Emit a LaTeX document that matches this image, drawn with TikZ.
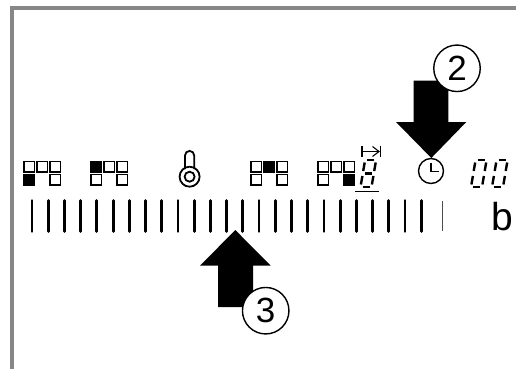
\documentclass[tikz,border=0pt]{standalone}
\usepackage{fontspec}
\setmainfont{Liberation Sans}
\tikzset{
  x=1pt,y=-1pt,
  framebar/.style={draw=black!47,line width=4pt},
  tickmark/.style={draw=black,line width=2.8pt,line cap=round},
  thintick/.style={draw=black!70,line width=1pt},
  sq/.style={draw=black,line width=1.8pt,fill=white},
  sqon/.style={draw=black,line width=1.8pt,fill=black},
  bigarrow/.style={fill=black,draw=none},
  numcircle/.style={circle,draw=black,line width=1.4pt,fill=white,minimum size=46.5pt,inner sep=0pt,font=\fontsize{35}{35}\selectfont},
  segm/.style={draw=black,line width=2.4pt},
  icon/.style={draw=black,line width=1.4pt},
  pics/seg8/.style={code={
    \begin{scope}[xslant=0.17]
      \draw[segm] (2.2,0)--(9,0);
      \draw[segm] (2.2,-13.5)--(9,-13.5);
      \draw[segm] (2.2,-27)--(9,-27);
      \draw[segm] (0,-2.5)--(0,-11);
      \draw[segm] (0,-16)--(0,-24.5);
      \draw[segm] (11,-2.5)--(11,-11);
      \draw[segm] (11,-16)--(11,-24.5);
    \end{scope}}},
  pics/seg0/.style={code={
    \begin{scope}[xslant=0.17]
      \draw[segm] (2.2,0)--(9,0);
      \draw[segm] (2.2,-27)--(9,-27);
      \draw[segm] (0,-2.5)--(0,-11);
      \draw[segm] (0,-16)--(0,-24.5);
      \draw[segm] (11,-2.5)--(11,-11);
      \draw[segm] (11,-16)--(11,-24.5);
    \end{scope}}},
}
\newcommand{\sqgroup}[4]{%
  \begin{scope}[shift={(#1,0)}]
    \path[#2] (0,161.5) rectangle +(10.5,10.5);
    \path[#3] (13,161.5) rectangle +(10.5,10.5);
    \path[sq] (26,161.5) rectangle +(10.5,10.5);
    #4
  \end{scope}}
\begin{document}
\begin{tikzpicture}
\useasboundingbox (0,0) rectangle (516,369);
\fill[white] (0,0) rectangle (516,369);
% frame
\draw[framebar,line cap=butt] (12,369) -- (12,8) -- (516,8);
% square groups
\sqgroup{24}{sq}{sq}{\path[sqon] (0,174.5) rectangle +(10.5,10.5); \path[sq] (26,174.5) rectangle +(10.5,10.5);}
\sqgroup{91}{sqon}{sq}{\path[sq] (0,174.5) rectangle +(10.5,10.5); \path[sq] (26,174.5) rectangle +(10.5,10.5);}
\sqgroup{251}{sq}{sqon}{\path[sq] (0,174.5) rectangle +(10.5,10.5); \path[sq] (26,174.5) rectangle +(10.5,10.5);}
\sqgroup{318}{sq}{sq}{\path[sq] (0,174.5) rectangle +(10.5,10.5); \path[sqon] (26,174.5) rectangle +(10.5,10.5);}
% thermometer
\draw[icon,line width=1.8pt] (185,169) -- (185,155.5) arc[start angle=180,end angle=360,radius=4.6] -- (194.2,169);
\node[circle,draw=black,line width=1.8pt,minimum size=20pt,inner sep=0pt] (thermo) at (189.6,176.7) {};
\node[circle,draw=black,line width=1.8pt,minimum size=10pt,inner sep=0pt] (thermoin) at (189.6,176.7) {};
% ticks
\foreach \i in {0,...,24} {
  \draw[tickmark] ({32+16.22*\i},200.5) -- ({32+16.22*\i},231.5);
}
\draw[thintick] (442,201) -- (442,231);
% digit 8 with marks
\pic at (360.5,187) {seg8};
\draw[draw=black,line width=1.5pt] (355,191.5) -- (379,191.5);
\draw[icon,line width=1.1pt] (362,146) -- (362,157);
\draw[icon,line width=1.1pt] (380.5,146) -- (380.5,157);
\draw[icon,line width=1.1pt] (363,151.5) -- (379,151.5);
\draw[icon,line width=1.1pt] (372.5,146.5) -- (379,151.5) -- (372.5,156.5);
% clock
\node[circle,draw=black,line width=1.4pt,minimum size=25pt,inner sep=0pt] (clock) at (431,171) {};
\draw[icon] (431,163) -- (431,171.5) -- (438.5,171.5);
% 00
\pic at (471,187) {seg0};
\pic at (492,187) {seg0};
% b
\node[anchor=base,inner sep=0pt,font=\fontsize{39}{39}\selectfont] (blabel) at (502,230) {b};
% arrow 2
\path[bigarrow] (413.7,80.7) -- (448.3,80.7) -- (448.3,122) -- (466.3,122) -- (431.3,158) -- (396,122) -- (413.7,122) -- cycle;
\node[numcircle] (two) at (457,68.3) {2};
% arrow 3
\path[bigarrow] (218,307) -- (253,307) -- (253,265.7) -- (270.7,265.7) -- (235.3,230) -- (200,265.7) -- (218,265.7) -- cycle;
\node[numcircle] (three) at (265.7,310.7) {3};
\end{tikzpicture}
\end{document}
